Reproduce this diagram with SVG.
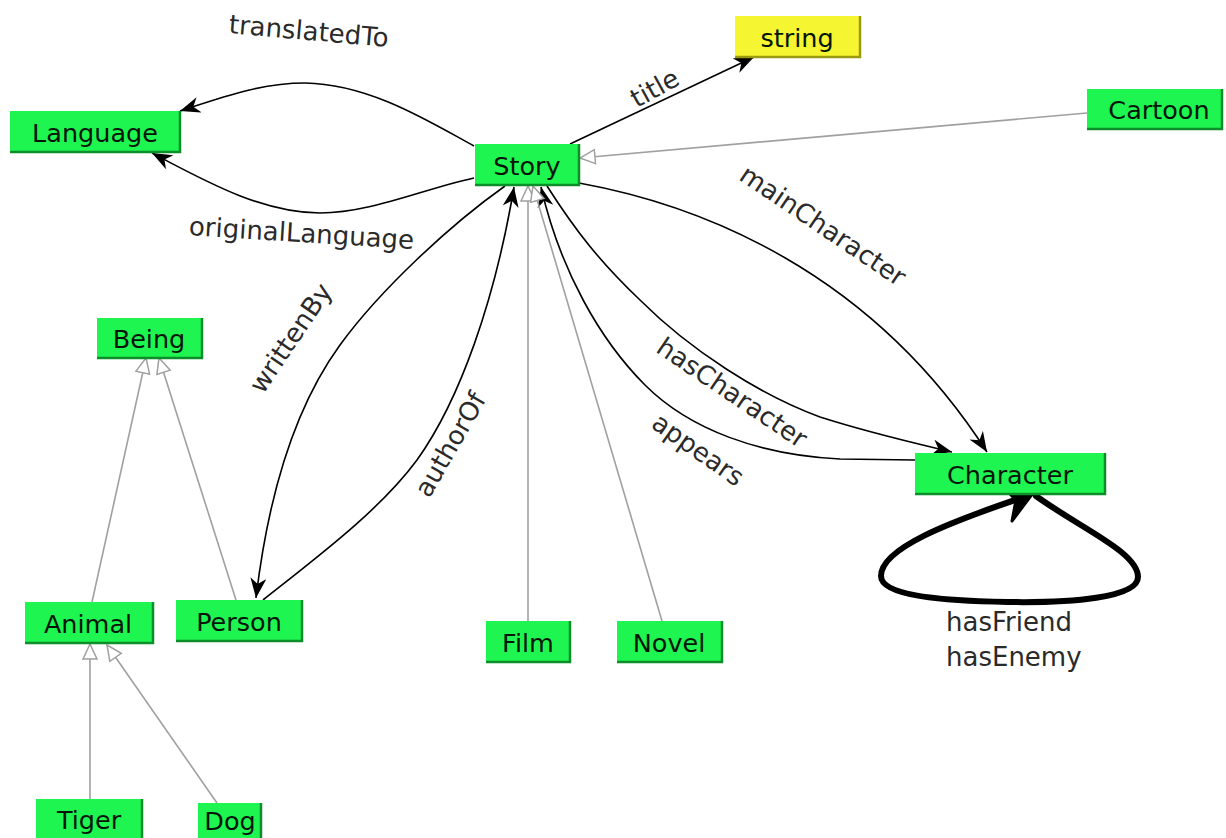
<svg xmlns="http://www.w3.org/2000/svg" width="1226" height="838" viewBox="0 0 1226 838">
<style>
.box{fill:#1ef550;}
.ybox{fill:#f6f531;}
.edge{fill:none;stroke:#0c8f2a;stroke-width:2.5;}
.yedge{fill:none;stroke:#9a9a10;stroke-width:2.5;}
.nt{font-family:"DejaVu Sans",sans-serif;font-size:25.5px;fill:#051505;text-anchor:middle;}
.lbl{font-family:"DejaVu Sans",sans-serif;font-size:26px;fill:#2a2a2a;text-anchor:middle;}
.rel{fill:none;stroke:#000;stroke-width:1.6;}
.gen{fill:none;stroke:#a0a0a0;stroke-width:1.6;}
</style>
<defs>
<marker id="ah" markerUnits="userSpaceOnUse" markerWidth="24" markerHeight="20" refX="20" refY="8" orient="auto">
<path d="M0,0 L20,8 L0,16 L6,8 z" fill="#000"/>
</marker>
<marker id="tri" markerUnits="userSpaceOnUse" markerWidth="20" markerHeight="18" refX="16" refY="8" orient="auto">
<path d="M1,1 L16,8 L1,15 z" fill="#fff" stroke="#a0a0a0" stroke-width="1.5"/>
</marker>
</defs>
<rect width="1226" height="838" fill="#fff"/>

<g id="connectors">
<path class="rel" d="M474,146 C430,122 370,84 305,83 C260,83 220,98 180,111" marker-end="url(#ah)"/>
<path class="rel" d="M474,178 C420,190 370,213 320,213 C260,213 200,178 152,153" marker-end="url(#ah)"/>
<path class="rel" d="M570,144 L754,57" marker-end="url(#ah)"/>
<path class="gen" d="M1087,113 L580,158" marker-end="url(#tri)"/>
<path class="rel" d="M579,183 C700,205 870,270 987,452" marker-end="url(#ah)"/>
<path class="rel" d="M547,186 C575,230 600,262 640,300 C690,350 760,395 820,417 C870,433 910,442 952,452" marker-end="url(#ah)"/>
<path class="rel" d="M915,460 L840,459 C760,455 690,430 645,385 C600,340 560,270 541,187" marker-end="url(#ah)"/>
<path class="rel" d="M505,186 C450,225 380,290 340,345 C300,400 270,480 256,598" marker-end="url(#ah)"/>
<path class="rel" d="M263,600 C320,555 380,510 417,460 C460,400 495,300 514,187" marker-end="url(#ah)"/>
<path class="gen" d="M528,621 L528,186" marker-end="url(#tri)"/>
<path class="gen" d="M662,621 L533,186" marker-end="url(#tri)"/>
<path class="gen" d="M92,602 L146,358" marker-end="url(#tri)"/>
<path class="gen" d="M236,600 L159,358" marker-end="url(#tri)"/>
<path class="gen" d="M90,799 L90,644" marker-end="url(#tri)"/>
<path class="gen" d="M217,803 L107,645" marker-end="url(#tri)"/>
<path d="M1036,496 C1080,528 1138,552 1138,577 C1138,598 1070,603 1008,602 C945,601 881,596 881,576 C881,548 950,522 1024,497" fill="none" stroke="#000" stroke-width="6" stroke-linecap="round"/>
<path d="M1033,493 L1003,487 L1016,500 L1012,521 z" fill="#000" stroke="#000" stroke-width="3" stroke-linejoin="round"/>
<text class="lbl" transform="translate(308,40) rotate(5)">translatedTo</text>
<text class="lbl" transform="translate(301,242) rotate(3.5)">originalLanguage</text>
<text class="lbl" transform="translate(659,96) rotate(-29)">title</text>
<text class="lbl" transform="translate(818,233) rotate(34)">mainCharacter</text>
<text class="lbl" transform="translate(298,343) rotate(-56)">writtenBy</text>
<text class="lbl" transform="translate(458,449) rotate(-60)">authorOf</text>
<text class="lbl" transform="translate(727,400) rotate(34)">hasCharacter</text>
<text class="lbl" transform="translate(693,457) rotate(35)">appears</text>
<text class="lbl" x="946" y="631" style="text-anchor:start">hasFriend</text>
<text class="lbl" x="946" y="666" style="text-anchor:start">hasEnemy</text>
</g>

<g id="node-string">
<rect class="ybox" x="735" y="16" width="125" height="41"/>
<polyline class="yedge" points="860,16 860,57 735,57"/>
<text class="nt" x="797" y="47">string</text>
</g>
<g id="node-language">
<rect class="box" x="10" y="111" width="170" height="41"/>
<polyline class="edge" points="180,111 180,152 10,152"/>
<text class="nt" x="95" y="142">Language</text>
</g>
<g id="node-story">
<rect class="box" x="475" y="144" width="104" height="41"/>
<polyline class="edge" points="579,144 579,185 475,185"/>
<text class="nt" x="527" y="175">Story</text>
</g>
<g id="node-cartoon">
<rect class="box" x="1087" y="89" width="135" height="40"/>
<polyline class="edge" points="1222,89 1222,129 1087,129"/>
<text class="nt" x="1159" y="119">Cartoon</text>
</g>
<g id="node-being">
<rect class="box" x="97" y="318" width="105" height="40"/>
<polyline class="edge" points="202,318 202,358 97,358"/>
<text class="nt" x="149" y="348">Being</text>
</g>
<g id="node-character">
<rect class="box" x="915" y="453" width="190" height="41"/>
<polyline class="edge" points="1105,453 1105,494 915,494"/>
<text class="nt" x="1010" y="484">Character</text>
</g>
<g id="node-animal">
<rect class="box" x="25" y="602" width="128" height="41"/>
<polyline class="edge" points="153,602 153,643 25,643"/>
<text class="nt" x="88" y="633">Animal</text>
</g>
<g id="node-person">
<rect class="box" x="176" y="600" width="126" height="41"/>
<polyline class="edge" points="302,600 302,641 176,641"/>
<text class="nt" x="239" y="631">Person</text>
</g>
<g id="node-film">
<rect class="box" x="486" y="621" width="84" height="41"/>
<polyline class="edge" points="570,621 570,662 486,662"/>
<text class="nt" x="528" y="652">Film</text>
</g>
<g id="node-novel">
<rect class="box" x="617" y="621" width="105" height="41"/>
<polyline class="edge" points="722,621 722,662 617,662"/>
<text class="nt" x="669" y="652">Novel</text>
</g>
<g id="node-tiger">
<rect class="box" x="36" y="799" width="106" height="41"/>
<polyline class="edge" points="142,799 142,840"/>
<text class="nt" x="89" y="829">Tiger</text>
</g>
<g id="node-dog">
<rect class="box" x="198" y="803" width="63" height="41"/>
<polyline class="edge" points="261,803 261,844"/>
<text class="nt" x="230" y="830">Dog</text>
</g>
</svg>
